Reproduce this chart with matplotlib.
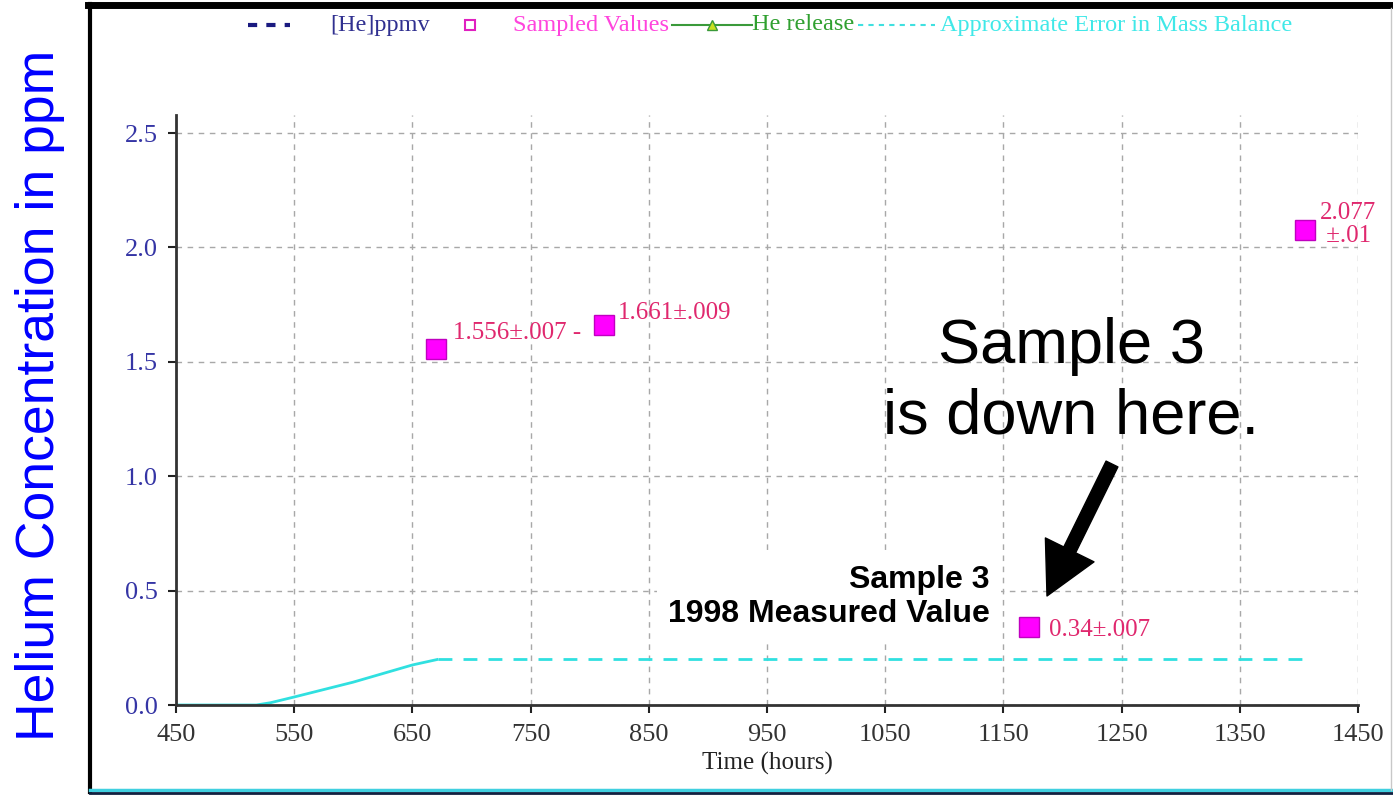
import matplotlib
matplotlib.use('Agg')
import matplotlib.pyplot as plt
from matplotlib.lines import Line2D

W, H = 1393, 795

# sampled helium values (hours, ppm) and their printed labels
sample_hours = [670, 812, 1172, 1405]
sample_ppm = [1.556, 1.661, 0.34, 2.077]
sample_labels = ['1.556±.007 -', '1.661±.009', '0.34±.007', '2.077\n ±.01']

# approximate error in mass balance: ramp, then flat
error_hours = [450, 518, 530, 550, 600, 650, 672]
error_ppm = [0.0, 0.0, 0.01, 0.035, 0.1, 0.175, 0.2]
error_flat_hours = [672, 1403]
error_flat_ppm = [0.2, 0.2]

x_ticks = [450, 550, 650, 750, 850, 950, 1050, 1150, 1250, 1350, 1450]
y_ticks = [0.0, 0.5, 1.0, 1.5, 2.0, 2.5]

# label offsets in points (styling, not data)
label_offsets = [(12, 7), (10, 4), (14, -6.5), (11, -9)]

SERIF = 'Liberation Serif'
SANS = 'Liberation Sans'


def fx(x):
    return x / W


def fy(y):
    return 1 - y / H


fig = plt.figure(figsize=(W / 100, H / 100), dpi=100)
fig.patch.set_facecolor('white')

ax = fig.add_axes([fx(176), fy(705), (1358 - 176) / W, (705 - 115) / H])
ax.set_xlim(450, 1450)
ax.set_ylim(0, 2.579)

ax.grid(True, color='#a8a8a8', linestyle=(0, (4, 4)), linewidth=1)
ax.set_axisbelow(True)
for side in ['top', 'right']:
    ax.spines[side].set_visible(False)
for side in ['left', 'bottom']:
    ax.spines[side].set_color('#333333')
    ax.spines[side].set_linewidth(2)

ax.set_xticks(x_ticks)
ax.set_yticks(y_ticks)
ax.set_yticklabels(['%.1f' % v for v in y_ticks])
ax.tick_params(axis='both', direction='out', length=6, width=1.5, color='#222222')
ax.tick_params(axis='y', labelsize=19, labelcolor='#3535a5', pad=7)
ax.tick_params(axis='x', labelsize=19, labelcolor='#333333', pad=8)
for lab in ax.get_xticklabels() + ax.get_yticklabels():
    lab.set_family(SERIF)
ax.set_xlabel('Time (hours)', family=SERIF, fontsize=18, color='#222222', labelpad=4)

# error curve
ax.plot(error_hours, error_ppm, color='#30e0e0', lw=2, solid_capstyle='butt')
ax.plot(error_flat_hours, error_flat_ppm, color='#30e0e0', lw=2, linestyle=(0, (5, 4)))

# sampled values
ax.plot(sample_hours, sample_ppm, linestyle='none', marker='s', ms=15,
        mfc='#ff00ff', mec='#c000c0', mew=1, zorder=5)
for hx, hy, txt, off in zip(sample_hours, sample_ppm, sample_labels, label_offsets):
    ax.annotate(txt, (hx, hy), xytext=off, textcoords='offset points',
                ha='left', va='baseline', fontsize=18, family=SERIF,
                color='#e0286e', linespacing=1.05)

# call-out text and arrow
fig.text(fx(1071), fy(382), 'Sample 3\nis down here.', ha='center', va='center',
         family=SANS, fontsize=45.5, color='black', linespacing=1.25)
ax.annotate('', xy=(1047, H - 596), xycoords='figure pixels',
            xytext=(1112, H - 464), textcoords='figure pixels',
            arrowprops=dict(arrowstyle='simple,head_width=3.9,head_length=3.7,tail_width=0.95',
                            mutation_scale=10, color='black', shrinkA=0, shrinkB=0))
fig.text(fx(990), fy(597), 'Sample 3\n1998 Measured Value', ha='right', va='center',
         family=SANS, fontsize=23, fontweight='bold', color='black', linespacing=1.15,
         bbox=dict(facecolor='white', edgecolor='none', pad=8))

# y label outside the frame
fig.text(fx(40), fy(395), 'Helium Concentration in ppm', rotation=90, ha='center',
         va='center', family=SANS, fontsize=38.5, color='#0000ff')

# legend across the top
ly = fy(25)
leg_size = 17.5
fig.add_artist(Line2D([fx(248), fx(290)], [ly, ly], transform=fig.transFigure,
                      color='#1a1a80', lw=3, linestyle=(0, (2.2, 2.2))))
fig.text(fx(330), ly, '[He]ppmv', family=SERIF, fontsize=leg_size, color='#303090', va='center')
fig.add_artist(Line2D([fx(470)], [ly], transform=fig.transFigure, marker='s', ms=7,
                      mfc='white', mec='#e020c0', mew=1.5, linestyle='none'))
fig.text(fx(513), ly, 'Sampled Values', family=SERIF, fontsize=leg_size, color='#ff44dd', va='center')
fig.add_artist(Line2D([fx(672), fx(752)], [ly, ly], transform=fig.transFigure,
                      color='#3a9a3a', lw=1.5))
fig.add_artist(Line2D([fx(712)], [ly], transform=fig.transFigure, marker='^', ms=7,
                      mfc='#c8e020', mec='#3a9a3a', linestyle='none'))
fig.text(fx(752), ly, 'He release', family=SERIF, fontsize=leg_size, color='#30a030', va='center')
fig.add_artist(Line2D([fx(858), fx(935)], [ly, ly], transform=fig.transFigure,
                      color='#40e0e0', lw=1.5, linestyle=(0, (2.5, 2.5))))
fig.text(fx(940), ly, 'Approximate Error in Mass Balance', family=SERIF, fontsize=leg_size,
         color='#40e8e8', va='center')

# window frame
fig.add_artist(Line2D([fx(90), fx(90)], [fy(4), fy(792)], transform=fig.transFigure,
                      color='black', lw=3))
fig.add_artist(Line2D([fx(88), fx(1393)], [fy(5), fy(5)], transform=fig.transFigure,
                      color='black', lw=5))
fig.add_artist(Line2D([fx(90), fx(1393)], [fy(790), fy(790)], transform=fig.transFigure,
                      color='#40d0e0', lw=2.5))
fig.add_artist(Line2D([fx(90), fx(1393)], [fy(793), fy(793)], transform=fig.transFigure,
                      color='#102040', lw=2))
fig.add_artist(Line2D([fx(1391), fx(1391)], [fy(8), fy(790)], transform=fig.transFigure,
                      color='#c8c8c8', lw=1))

fig.savefig('out.png', dpi=100)
